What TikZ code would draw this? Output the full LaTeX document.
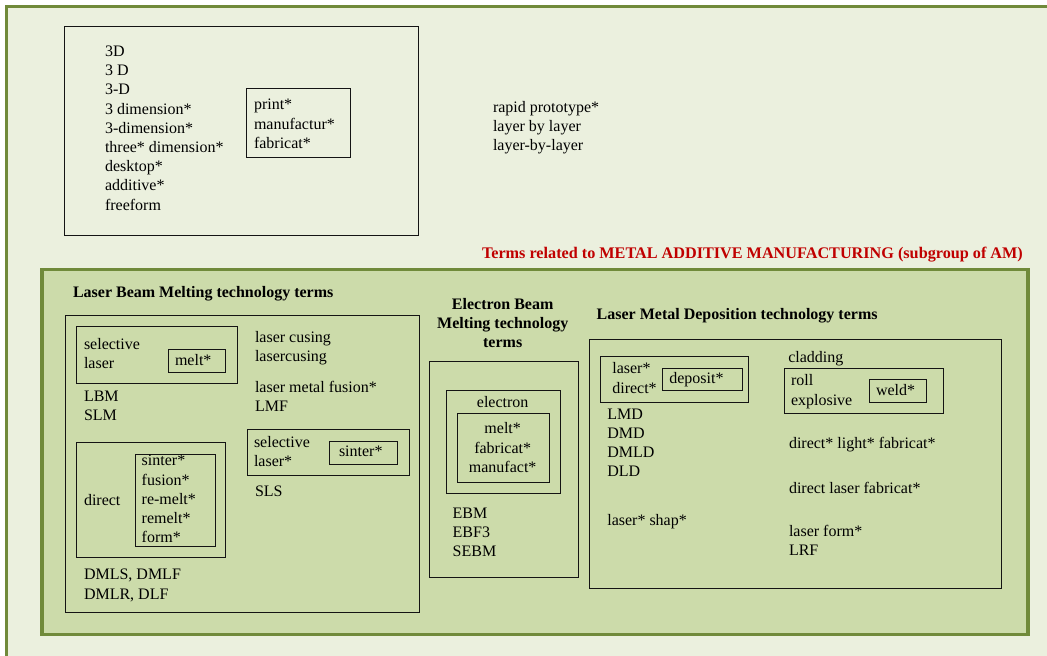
\documentclass[tikz,border=0pt]{standalone}
\usepackage{fontspec}
\setmainfont{Liberation Serif}
\definecolor{bgout}{RGB}{235,240,222}
\definecolor{bgin}{RGB}{204,219,170}
\definecolor{gborder}{RGB}{112,138,58}
\definecolor{tred}{RGB}{192,0,0}
\definecolor{boxline}{RGB}{20,20,20}
\tikzset{
  txt/.style={inner sep=0pt, outer sep=0pt, align=left, anchor=north west,
    font=\fontsize{16}{19.2}\selectfont, text=black},
  ctxt/.style={txt, align=center, anchor=north},
  ttl/.style={txt, font=\fontsize{16}{19.2}\selectfont\bfseries},
  cttl/.style={ttl, align=center, anchor=north},
  bx/.style={draw=boxline, line width=0.9pt},
}
\begin{document}
\begin{tikzpicture}[x=1pt,y=-1pt]
\useasboundingbox (0,0) rectangle (1047,656);
\fill[white] (0,0) rectangle (1047,656);
% outer frame
\draw[gborder, line width=3pt, fill=bgout] (6.5,6.2) rectangle (1062,672);
% top box
\draw[bx] (64,26.7) rectangle (418.7,235.3);
\node[txt] (t3d) at (105,43.1) {\strut 3D\\3 D\\3-D\\3 dimension*\\3-dimension*\\three* dimension*\\desktop*\\additive*\\freeform};
\draw[bx] (246.7,88.3) rectangle (350,157.3);
\node[txt] (tprint) at (254,96.4) {\strut print*\\manufactur*\\fabricat*};
\node[txt] (trapid) at (493,98.8) {\strut rapid prototype*\\layer by layer\\layer-by-layer};
\node[ttl, text=tred, font=\fontsize{16.2}{19.2}\selectfont\bfseries] (tmetal) at (482,244.8) {\strut Terms related to METAL ADDITIVE MANUFACTURING (subgroup of AM)};
% inner green box
\draw[gborder, line width=3.5pt, fill=bgin] (42,269.7) rectangle (1027.8,634.7);
% ---- Laser Beam Melting
\node[ttl] (lbmtitle) at (73,284.5) {\strut Laser Beam Melting technology terms};
\draw[bx] (65.7,315) rectangle (419.7,612.3);
\draw[bx] (76.7,326) rectangle (237,383.7);
\node[txt] (tsel) at (84,335.7) {\strut selective\\laser};
\draw[bx] (168,349) rectangle (225.7,372);
\node[txt] (tmelt) at (175,352.4) {\strut melt*};
\node[txt] (tlbm) at (84,388.1) {\strut LBM\\SLM};
\node[txt] (tcusing) at (255,328.7) {\strut laser cusing\\lasercusing};
\node[txt] (tlmf) at (255,378.7) {\strut laser metal fusion*\\LMF};
\draw[bx] (76.7,442.7) rectangle (225.3,557.7);
\node[txt] (tdirect) at (84,492.4) {\strut direct};
\draw[bx] (135.3,454) rectangle (215.3,546.3);
\node[txt] (tsinter) at (141.7,452.4) {\strut sinter*\\fusion*\\re-melt*\\remelt*\\form*};
\node[txt] (tdmls) at (84,566.4) {\strut DMLS, DMLF\\DMLR, DLF};
\draw[bx] (247.3,429.7) rectangle (409.3,475.3);
\node[txt] (tsel2) at (254,434.1) {\strut selective\\laser*};
\draw[bx] (329,441) rectangle (397.5,464);
\node[txt] (tsinter2) at (339,443.1) {\strut sinter*};
\node[txt] (tsls) at (255,483.1) {\strut SLS};
% ---- Electron Beam Melting
\node[cttl] (ebmtitle) at (502.7,295.7) {\strut Electron Beam\\Melting technology\\terms};
\draw[bx] (429.3,361) rectangle (578.3,577.7);
\draw[bx] (446.3,390.7) rectangle (560.7,493.3);
\node[ctxt] (telectron) at (502.7,393.7) {\strut electron};
\draw[bx] (457.3,413.7) rectangle (549.3,482);
\node[ctxt] (tmelt2) at (502.7,420.4) {\strut melt*\\fabricat*\\manufact*};
\node[txt] (tebm) at (452.7,504.7) {\strut EBM\\EBF3\\SEBM};
% ---- Laser Metal Deposition
\node[ttl] (lmdtitle) at (596.7,306.3) {\strut Laser Metal Deposition technology terms};
\draw[bx] (589.3,339.7) rectangle (1001,588.3);
\draw[bx] (600,356.7) rectangle (748.3,402);
\node[txt] (tlaser) at (612.3,360.4) {\strut laser*\\direct*};
\draw[bx] (662.3,368) rectangle (742.7,390.7);
\node[txt] (tdeposit) at (669.3,369.7) {\strut deposit*};
\node[txt] (tlmd) at (607.3,405.7) {\strut LMD\\DMD\\DMLD\\DLD};
\node[txt] (tshap) at (607.3,511.8) {\strut laser* shap*};
\node[txt] (tclad) at (788.3,349.5) {\strut cladding};
\draw[bx] (784,368.3) rectangle (943.3,413.7);
\node[txt] (troll) at (791,372.4) {\strut roll\\explosive};
\draw[bx] (869,379.3) rectangle (926.7,402.3);
\node[txt] (tweld) at (876,382.4) {\strut weld*};
\node[txt] (tdlf) at (789,435.3) {\strut direct* light* fabricat*};
\node[txt] (tdlf2) at (789,480.3) {\strut direct laser fabricat*};
\node[txt] (tlrf) at (789,523.2) {\strut laser form*\\LRF};
\end{tikzpicture}
\end{document}
